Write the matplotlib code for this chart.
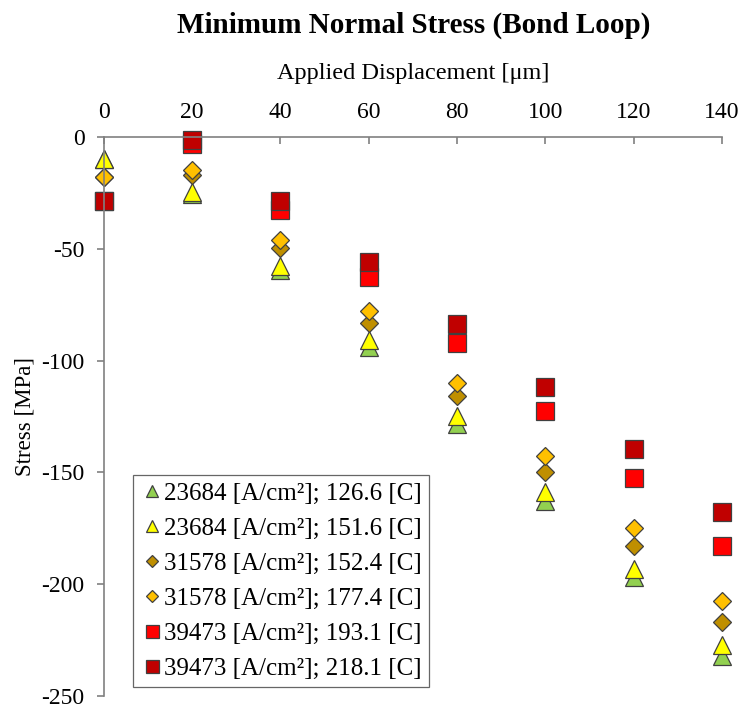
import numpy as np
import matplotlib
matplotlib.use("Agg")
import matplotlib.pyplot as plt

plt.rcParams['font.family'] = ['Liberation Serif', 'DejaVu Serif']

# applied displacement [um]
disp = [0, 20, 40, 60, 80, 100, 120, 140]

# minimum normal stress [MPa] per current density / temperature case
s_23684_126 = [-10.0, -25.5, -59.5, -94.0, -128.5, -162.6, -197.0, -232.0]
s_23684_151 = [-10.0, -24.4, -57.9, -91.0, -125.0, -158.9, -193.0, -227.0]
s_31578_152 = [-18.0, -17.0, -49.6, -83.0, -116.0, -149.7, -183.0, -217.0]
s_31578_177 = [-18.0, -14.8, -46.0, -78.0, -110.0, -142.7, -175.0, -207.4]
s_39473_193 = [-28.6, -3.0, -32.6, -62.6, -92.0, -122.6, -152.7, -183.0]
s_39473_218 = [-28.6, -1.5, -28.6, -56.0, -83.6, -111.6, -139.5, -167.6]

labels = [
    "23684 [A/cm²]; 126.6 [C]",
    "23684 [A/cm²]; 151.6 [C]",
    "31578 [A/cm²]; 152.4 [C]",
    "31578 [A/cm²]; 177.4 [C]",
    "39473 [A/cm²]; 193.1 [C]",
    "39473 [A/cm²]; 218.1 [C]",
]
series = [s_23684_126, s_23684_151, s_31578_152, s_31578_177, s_39473_193, s_39473_218]
colors = ["#92D050", "#FFFF00", "#BF8F00", "#FFC000", "#FF0000", "#C00000"]
markers = ["^", "^", "D", "D", "s", "s"]
sizes = [12.5, 12.5, 8.8, 8.8, 13.0, 13.0]

fig = plt.figure(figsize=(7.42, 7.07), dpi=100)
ax = fig.add_axes([0.140, 0.0156, 0.833, 0.7906])

for y, lab, c, m, ms in zip(series, labels, colors, markers, sizes):
    ax.plot(disp, y, linestyle="none", marker=m, markersize=ms,
            markerfacecolor=c, markeredgecolor="#404040", markeredgewidth=0.9,
            label=lab, clip_on=False)

ax.set_xlim(0, 140)
ax.set_ylim(-250, 0)
ax.set_xticks(np.arange(0, 141, 20))
ax.set_yticks(np.arange(-250, 1, 50))
ax.set_yticklabels([str(v) for v in range(-250, 1, 50)])

ax.xaxis.tick_top()
ax.xaxis.set_label_position("top")
ax.spines["bottom"].set_visible(False)
ax.spines["right"].set_visible(False)
for sp in ("top", "left"):
    ax.spines[sp].set_color("#808080")
    ax.spines[sp].set_linewidth(1.2)

ax.tick_params(axis="x", direction="in", length=5, width=1.2, color="#808080",
               labelsize=17, pad=10)
ax.tick_params(axis="y", direction="out", length=5, width=1.2, color="#808080",
               labelsize=17, pad=9)

ax.set_xlabel("Applied Displacement [μm]", fontsize=17.5, labelpad=17)
ax.set_ylabel("Stress [MPa]", fontsize=16.5)
ax.yaxis.set_label_coords(-0.110, 0.5)
fig.suptitle("Minimum Normal Stress (Bond Loop)", fontsize=21, fontweight="bold",
             x=0.557, y=0.984)

leg = ax.legend(loc="lower left", bbox_to_anchor=(0.047, 0.016), borderaxespad=0,
                fontsize=18, frameon=True, fancybox=False, handletextpad=0.05,
                handlelength=0.9, labelspacing=0.5, borderpad=0.3,
                markerscale=0.72)
leg.get_frame().set_edgecolor("#404040")
leg.get_frame().set_linewidth(0.9)

fig.savefig("out.png", dpi=100)
